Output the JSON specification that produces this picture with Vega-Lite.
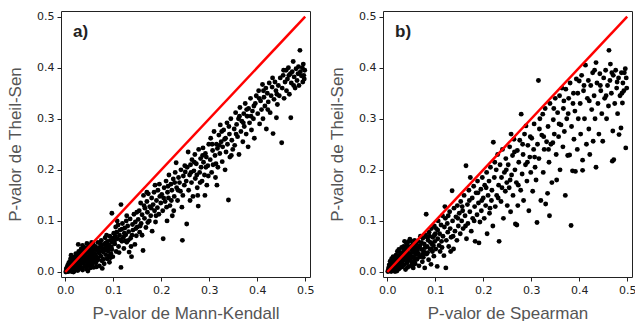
{
"$schema": "https://vega.github.io/schema/vega-lite/v6.json",
"padding": {"left": 6, "top": 10, "right": 0, "bottom": 0},
"background": "white",
"datasets": {
"diag": [{"x": 0, "y": 0}, {"x": 0.5, "y": 0.5}],
"pts": [
{"p":"a","x":0.001,"y":0.000},{"p":"a","x":0.002,"y":0.002},{"p":"a","x":0.003,"y":0.001},{"p":"a","x":0.004,"y":0.004},{"p":"a","x":0.005,"y":0.002},{"p":"a","x":0.006,"y":0.006},{"p":"a","x":0.007,"y":0.001},{"p":"a","x":0.008,"y":0.004},{"p":"a","x":0.009,"y":0.008},{"p":"a","x":0.010,"y":0.003},
{"p":"a","x":0.011,"y":0.010},{"p":"a","x":0.012,"y":0.006},{"p":"a","x":0.013,"y":0.001},{"p":"a","x":0.014,"y":0.012},{"p":"a","x":0.015,"y":0.008},{"p":"a","x":0.016,"y":0.004},{"p":"a","x":0.017,"y":0.015},{"p":"a","x":0.018,"y":0.010},{"p":"a","x":0.019,"y":0.002},{"p":"a","x":0.020,"y":0.018},
{"p":"a","x":0.021,"y":0.013},{"p":"a","x":0.022,"y":0.006},{"p":"a","x":0.023,"y":0.020},{"p":"a","x":0.024,"y":0.009},{"p":"a","x":0.025,"y":0.015},{"p":"a","x":0.026,"y":0.003},{"p":"a","x":0.027,"y":0.022},{"p":"a","x":0.028,"y":0.012},{"p":"a","x":0.029,"y":0.018},{"p":"a","x":0.030,"y":0.007},
{"p":"a","x":0.003,"y":0.008},{"p":"a","x":0.005,"y":0.013},{"p":"a","x":0.007,"y":0.017},{"p":"a","x":0.009,"y":0.020},{"p":"a","x":0.011,"y":0.026},{"p":"a","x":0.012,"y":0.033},{"p":"a","x":0.014,"y":0.022},{"p":"a","x":0.016,"y":0.028},{"p":"a","x":0.018,"y":0.024},{"p":"a","x":0.020,"y":0.030},
{"p":"a","x":0.022,"y":0.036},{"p":"a","x":0.024,"y":0.027},{"p":"a","x":0.026,"y":0.031},{"p":"a","x":0.028,"y":0.040},{"p":"a","x":0.030,"y":0.025},{"p":"a","x":0.006,"y":0.010},{"p":"a","x":0.010,"y":0.015},{"p":"a","x":0.015,"y":0.019},{"p":"a","x":0.019,"y":0.007},{"p":"a","x":0.023,"y":0.014},
{"p":"a","x":0.027,"y":0.005},{"p":"a","x":0.029,"y":0.028},{"p":"a","x":0.002,"y":0.006},{"p":"a","x":0.008,"y":0.014},{"p":"a","x":0.013,"y":0.018},{"p":"a","x":0.017,"y":0.000},{"p":"a","x":0.021,"y":0.025},{"p":"a","x":0.025,"y":0.021},{"p":"a","x":0.027,"y":0.054},
{"p":"a","x":0.031,"y":0.015},{"p":"a","x":0.032,"y":0.032},{"p":"a","x":0.033,"y":0.009},{"p":"a","x":0.034,"y":0.022},{"p":"a","x":0.035,"y":0.041},{"p":"a","x":0.036,"y":0.004},{"p":"a","x":0.037,"y":0.028},{"p":"a","x":0.038,"y":0.017},{"p":"a","x":0.039,"y":0.035},{"p":"a","x":0.040,"y":0.011},
{"p":"a","x":0.041,"y":0.046},{"p":"a","x":0.042,"y":0.024},{"p":"a","x":0.043,"y":0.031},{"p":"a","x":0.044,"y":0.006},{"p":"a","x":0.045,"y":0.056},{"p":"a","x":0.046,"y":0.019},{"p":"a","x":0.047,"y":0.038},{"p":"a","x":0.048,"y":0.027},{"p":"a","x":0.049,"y":0.013},{"p":"a","x":0.050,"y":0.043},
{"p":"a","x":0.051,"y":0.034},{"p":"a","x":0.052,"y":0.008},{"p":"a","x":0.053,"y":0.050},{"p":"a","x":0.054,"y":0.022},{"p":"a","x":0.055,"y":0.029},{"p":"a","x":0.056,"y":0.040},{"p":"a","x":0.057,"y":0.016},{"p":"a","x":0.058,"y":0.055},{"p":"a","x":0.059,"y":0.033},{"p":"a","x":0.060,"y":0.025},
{"p":"a","x":0.033,"y":0.045},{"p":"a","x":0.036,"y":0.052},{"p":"a","x":0.038,"y":0.025},{"p":"a","x":0.040,"y":0.030},{"p":"a","x":0.042,"y":0.012},{"p":"a","x":0.044,"y":0.040},{"p":"a","x":0.046,"y":0.048},{"p":"a","x":0.048,"y":0.020},{"p":"a","x":0.050,"y":0.052},{"p":"a","x":0.052,"y":0.037},
{"p":"a","x":0.054,"y":0.014},{"p":"a","x":0.056,"y":0.047},{"p":"a","x":0.058,"y":0.021},{"p":"a","x":0.060,"y":0.044},{"p":"a","x":0.035,"y":0.019},{"p":"a","x":0.041,"y":0.036},{"p":"a","x":0.047,"y":0.002},{"p":"a","x":0.053,"y":0.030},{"p":"a","x":0.057,"y":0.038},{"p":"a","x":0.039,"y":0.048},
{"p":"a","x":0.045,"y":0.023},{"p":"a","x":0.051,"y":0.017},{"p":"a","x":0.055,"y":0.058},{"p":"a","x":0.059,"y":0.009},{"p":"a","x":0.031,"y":0.038},
{"p":"a","x":0.062,"y":0.035},{"p":"a","x":0.063,"y":0.050},{"p":"a","x":0.064,"y":0.018},{"p":"a","x":0.066,"y":0.042},{"p":"a","x":0.067,"y":0.028},{"p":"a","x":0.068,"y":0.058},{"p":"a","x":0.070,"y":0.037},{"p":"a","x":0.071,"y":0.012},{"p":"a","x":0.072,"y":0.048},{"p":"a","x":0.074,"y":0.031},
{"p":"a","x":0.075,"y":0.062},{"p":"a","x":0.076,"y":0.022},{"p":"a","x":0.078,"y":0.045},{"p":"a","x":0.079,"y":0.039},{"p":"a","x":0.080,"y":0.054},{"p":"a","x":0.081,"y":0.016},{"p":"a","x":0.083,"y":0.067},{"p":"a","x":0.084,"y":0.034},{"p":"a","x":0.085,"y":0.047},{"p":"a","x":0.087,"y":0.026},
{"p":"a","x":0.088,"y":0.060},{"p":"a","x":0.089,"y":0.041},{"p":"a","x":0.091,"y":0.053},{"p":"a","x":0.092,"y":0.019},{"p":"a","x":0.093,"y":0.070},{"p":"a","x":0.095,"y":0.036},{"p":"a","x":0.096,"y":0.049},{"p":"a","x":0.097,"y":0.115},{"p":"a","x":0.098,"y":0.058},{"p":"a","x":0.099,"y":0.030},
{"p":"a","x":0.065,"y":0.010},{"p":"a","x":0.069,"y":0.046},{"p":"a","x":0.073,"y":0.055},{"p":"a","x":0.077,"y":0.007},{"p":"a","x":0.082,"y":0.043},{"p":"a","x":0.086,"y":0.072},{"p":"a","x":0.090,"y":0.047},{"p":"a","x":0.094,"y":0.062},{"p":"a","x":0.100,"y":0.066},{"p":"a","x":0.061,"y":0.026},
{"p":"a","x":0.068,"y":0.024},{"p":"a","x":0.076,"y":0.052},{"p":"a","x":0.084,"y":0.057},{"p":"a","x":0.090,"y":0.032},{"p":"a","x":0.097,"y":0.044},
{"p":"a","x":0.101,"y":0.076},{"p":"a","x":0.103,"y":0.055},{"p":"a","x":0.105,"y":0.088},{"p":"a","x":0.106,"y":0.040},{"p":"a","x":0.108,"y":0.065},{"p":"a","x":0.110,"y":0.092},{"p":"a","x":0.111,"y":0.050},{"p":"a","x":0.113,"y":0.072},{"p":"a","x":0.114,"y":0.082},{"p":"a","x":0.116,"y":0.132},
{"p":"a","x":0.116,"y":0.009},{"p":"a","x":0.118,"y":0.060},{"p":"a","x":0.119,"y":0.095},{"p":"a","x":0.121,"y":0.068},{"p":"a","x":0.122,"y":0.046},{"p":"a","x":0.124,"y":0.086},{"p":"a","x":0.126,"y":0.073},{"p":"a","x":0.127,"y":0.100},{"p":"a","x":0.128,"y":0.058},{"p":"a","x":0.130,"y":0.090},
{"p":"a","x":0.132,"y":0.079},{"p":"a","x":0.133,"y":0.039},{"p":"a","x":0.135,"y":0.104},{"p":"a","x":0.136,"y":0.066},{"p":"a","x":0.138,"y":0.030},{"p":"a","x":0.140,"y":0.093},{"p":"a","x":0.141,"y":0.082},{"p":"a","x":0.143,"y":0.113},{"p":"a","x":0.145,"y":0.054},{"p":"a","x":0.146,"y":0.098},
{"p":"a","x":0.148,"y":0.071},{"p":"a","x":0.150,"y":0.088},{"p":"a","x":0.104,"y":0.070},{"p":"a","x":0.112,"y":0.038},{"p":"a","x":0.125,"y":0.061},{"p":"a","x":0.137,"y":0.050},{"p":"a","x":0.149,"y":0.117},
{"p":"a","x":0.152,"y":0.103},{"p":"a","x":0.154,"y":0.120},{"p":"a","x":0.155,"y":0.078},{"p":"a","x":0.157,"y":0.135},{"p":"a","x":0.158,"y":0.095},{"p":"a","x":0.160,"y":0.112},{"p":"a","x":0.162,"y":0.042},{"p":"a","x":0.163,"y":0.150},{"p":"a","x":0.165,"y":0.105},{"p":"a","x":0.166,"y":0.125},
{"p":"a","x":0.168,"y":0.087},{"p":"a","x":0.170,"y":0.138},{"p":"a","x":0.171,"y":0.117},{"p":"a","x":0.173,"y":0.153},{"p":"a","x":0.175,"y":0.100},{"p":"a","x":0.176,"y":0.128},{"p":"a","x":0.178,"y":0.110},{"p":"a","x":0.180,"y":0.145},{"p":"a","x":0.181,"y":0.080},{"p":"a","x":0.183,"y":0.132},
{"p":"a","x":0.185,"y":0.156},{"p":"a","x":0.186,"y":0.120},{"p":"a","x":0.188,"y":0.098},{"p":"a","x":0.190,"y":0.140},{"p":"a","x":0.192,"y":0.126},{"p":"a","x":0.193,"y":0.160},{"p":"a","x":0.195,"y":0.113},{"p":"a","x":0.197,"y":0.148},{"p":"a","x":0.199,"y":0.135},{"p":"a","x":0.160,"y":0.072},
{"p":"a","x":0.170,"y":0.156},{"p":"a","x":0.187,"y":0.170},
{"p":"a","x":0.201,"y":0.152},{"p":"a","x":0.203,"y":0.120},{"p":"a","x":0.204,"y":0.065},{"p":"a","x":0.206,"y":0.165},{"p":"a","x":0.208,"y":0.138},{"p":"a","x":0.210,"y":0.178},{"p":"a","x":0.211,"y":0.127},{"p":"a","x":0.213,"y":0.156},{"p":"a","x":0.215,"y":0.145},{"p":"a","x":0.216,"y":0.190},
{"p":"a","x":0.218,"y":0.130},{"p":"a","x":0.220,"y":0.172},{"p":"a","x":0.222,"y":0.160},{"p":"a","x":0.223,"y":0.110},{"p":"a","x":0.225,"y":0.182},{"p":"a","x":0.227,"y":0.148},{"p":"a","x":0.229,"y":0.195},{"p":"a","x":0.231,"y":0.214},{"p":"a","x":0.232,"y":0.165},{"p":"a","x":0.234,"y":0.140},
{"p":"a","x":0.236,"y":0.185},{"p":"a","x":0.238,"y":0.175},{"p":"a","x":0.240,"y":0.158},{"p":"a","x":0.241,"y":0.200},{"p":"a","x":0.243,"y":0.127},{"p":"a","x":0.244,"y":0.062},{"p":"a","x":0.246,"y":0.188},{"p":"a","x":0.248,"y":0.170},{"p":"a","x":0.250,"y":0.196},{"p":"a","x":0.212,"y":0.100},
{"p":"a","x":0.226,"y":0.120},
{"p":"a","x":0.252,"y":0.178},{"p":"a","x":0.253,"y":0.094},{"p":"a","x":0.254,"y":0.205},{"p":"a","x":0.256,"y":0.235},{"p":"a","x":0.257,"y":0.160},{"p":"a","x":0.259,"y":0.190},{"p":"a","x":0.261,"y":0.210},{"p":"a","x":0.263,"y":0.175},{"p":"a","x":0.264,"y":0.220},{"p":"a","x":0.266,"y":0.148},
{"p":"a","x":0.268,"y":0.198},{"p":"a","x":0.270,"y":0.230},{"p":"a","x":0.271,"y":0.183},{"p":"a","x":0.273,"y":0.212},{"p":"a","x":0.275,"y":0.165},{"p":"a","x":0.277,"y":0.129},{"p":"a","x":0.278,"y":0.240},{"p":"a","x":0.280,"y":0.195},{"p":"a","x":0.282,"y":0.222},{"p":"a","x":0.283,"y":0.205},
{"p":"a","x":0.285,"y":0.178},{"p":"a","x":0.287,"y":0.243},{"p":"a","x":0.288,"y":0.215},{"p":"a","x":0.290,"y":0.190},{"p":"a","x":0.292,"y":0.232},{"p":"a","x":0.294,"y":0.225},{"p":"a","x":0.295,"y":0.170},{"p":"a","x":0.297,"y":0.208},{"p":"a","x":0.299,"y":0.250},{"p":"a","x":0.260,"y":0.140},
{"p":"a","x":0.276,"y":0.150},{"p":"a","x":0.291,"y":0.150},
{"p":"a","x":0.302,"y":0.220},{"p":"a","x":0.303,"y":0.262},{"p":"a","x":0.305,"y":0.195},{"p":"a","x":0.307,"y":0.238},{"p":"a","x":0.308,"y":0.210},{"p":"a","x":0.310,"y":0.275},{"p":"a","x":0.312,"y":0.228},{"p":"a","x":0.313,"y":0.185},{"p":"a","x":0.315,"y":0.250},{"p":"a","x":0.317,"y":0.242},
{"p":"a","x":0.318,"y":0.205},{"p":"a","x":0.320,"y":0.268},{"p":"a","x":0.322,"y":0.232},{"p":"a","x":0.323,"y":0.288},{"p":"a","x":0.325,"y":0.255},{"p":"a","x":0.327,"y":0.216},{"p":"a","x":0.328,"y":0.245},{"p":"a","x":0.330,"y":0.278},{"p":"a","x":0.332,"y":0.260},{"p":"a","x":0.333,"y":0.200},
{"p":"a","x":0.335,"y":0.235},{"p":"a","x":0.337,"y":0.292},{"p":"a","x":0.338,"y":0.250},{"p":"a","x":0.340,"y":0.141},{"p":"a","x":0.342,"y":0.270},{"p":"a","x":0.343,"y":0.225},{"p":"a","x":0.345,"y":0.300},{"p":"a","x":0.347,"y":0.258},{"p":"a","x":0.349,"y":0.240},{"p":"a","x":0.316,"y":0.170},
{"p":"a","x":0.352,"y":0.280},{"p":"a","x":0.353,"y":0.248},{"p":"a","x":0.355,"y":0.312},{"p":"a","x":0.357,"y":0.289},{"p":"a","x":0.359,"y":0.265},{"p":"a","x":0.361,"y":0.300},{"p":"a","x":0.362,"y":0.230},{"p":"a","x":0.364,"y":0.322},{"p":"a","x":0.366,"y":0.275},{"p":"a","x":0.368,"y":0.295},
{"p":"a","x":0.370,"y":0.255},{"p":"a","x":0.372,"y":0.310},{"p":"a","x":0.373,"y":0.285},{"p":"a","x":0.375,"y":0.330},{"p":"a","x":0.377,"y":0.270},{"p":"a","x":0.379,"y":0.305},{"p":"a","x":0.381,"y":0.245},{"p":"a","x":0.382,"y":0.320},{"p":"a","x":0.384,"y":0.292},{"p":"a","x":0.386,"y":0.340},
{"p":"a","x":0.388,"y":0.278},{"p":"a","x":0.390,"y":0.315},{"p":"a","x":0.392,"y":0.300},{"p":"a","x":0.394,"y":0.262},{"p":"a","x":0.396,"y":0.330},{"p":"a","x":0.398,"y":0.345},
{"p":"a","x":0.401,"y":0.310},{"p":"a","x":0.403,"y":0.355},{"p":"a","x":0.405,"y":0.290},{"p":"a","x":0.407,"y":0.335},{"p":"a","x":0.409,"y":0.318},{"p":"a","x":0.411,"y":0.367},{"p":"a","x":0.412,"y":0.300},{"p":"a","x":0.414,"y":0.342},{"p":"a","x":0.416,"y":0.325},{"p":"a","x":0.418,"y":0.360},
{"p":"a","x":0.419,"y":0.280},{"p":"a","x":0.421,"y":0.350},{"p":"a","x":0.423,"y":0.333},{"p":"a","x":0.425,"y":0.370},{"p":"a","x":0.427,"y":0.312},{"p":"a","x":0.429,"y":0.345},{"p":"a","x":0.431,"y":0.362},{"p":"a","x":0.433,"y":0.271},{"p":"a","x":0.435,"y":0.338},{"p":"a","x":0.437,"y":0.372},
{"p":"a","x":0.439,"y":0.355},{"p":"a","x":0.440,"y":0.302},{"p":"a","x":0.442,"y":0.328},{"p":"a","x":0.444,"y":0.365},{"p":"a","x":0.446,"y":0.345},{"p":"a","x":0.448,"y":0.380},
{"p":"a","x":0.451,"y":0.253},{"p":"a","x":0.452,"y":0.360},{"p":"a","x":0.454,"y":0.385},{"p":"a","x":0.456,"y":0.340},{"p":"a","x":0.458,"y":0.372},{"p":"a","x":0.460,"y":0.395},{"p":"a","x":0.461,"y":0.355},{"p":"a","x":0.463,"y":0.378},{"p":"a","x":0.465,"y":0.400},{"p":"a","x":0.467,"y":0.348},
{"p":"a","x":0.469,"y":0.388},{"p":"a","x":0.470,"y":0.302},{"p":"a","x":0.471,"y":0.370},{"p":"a","x":0.473,"y":0.392},{"p":"a","x":0.475,"y":0.412},{"p":"a","x":0.477,"y":0.382},{"p":"a","x":0.479,"y":0.360},{"p":"a","x":0.481,"y":0.398},{"p":"a","x":0.483,"y":0.375},{"p":"a","x":0.485,"y":0.388},
{"p":"a","x":0.487,"y":0.365},{"p":"a","x":0.489,"y":0.434},{"p":"a","x":0.490,"y":0.392},{"p":"a","x":0.492,"y":0.384},{"p":"a","x":0.494,"y":0.400},{"p":"a","x":0.496,"y":0.407},{"p":"a","x":0.498,"y":0.378},{"p":"a","x":0.499,"y":0.395},{"p":"a","x":0.495,"y":0.372},
{"p":"a","x":0.108,"y":0.100},{"p":"a","x":0.118,"y":0.084},{"p":"a","x":0.128,"y":0.110},{"p":"a","x":0.139,"y":0.072},{"p":"a","x":0.147,"y":0.085},{"p":"a","x":0.156,"y":0.090},{"p":"a","x":0.164,"y":0.130},{"p":"a","x":0.172,"y":0.097},{"p":"a","x":0.179,"y":0.125},{"p":"a","x":0.189,"y":0.110},
{"p":"a","x":0.196,"y":0.172},{"p":"a","x":0.205,"y":0.145},{"p":"a","x":0.214,"y":0.168},{"p":"a","x":0.221,"y":0.140},{"p":"a","x":0.228,"y":0.175},{"p":"a","x":0.235,"y":0.160},{"p":"a","x":0.245,"y":0.150},{"p":"a","x":0.249,"y":0.208},{"p":"a","x":0.262,"y":0.195},{"p":"a","x":0.269,"y":0.215},
{"p":"a","x":0.274,"y":0.190},{"p":"a","x":0.281,"y":0.175},{"p":"a","x":0.286,"y":0.228},{"p":"a","x":0.293,"y":0.205},{"p":"a","x":0.298,"y":0.188},{"p":"a","x":0.306,"y":0.250},{"p":"a","x":0.314,"y":0.212},{"p":"a","x":0.321,"y":0.248},{"p":"a","x":0.326,"y":0.275},{"p":"a","x":0.334,"y":0.262},
{"p":"a","x":0.341,"y":0.285},{"p":"a","x":0.346,"y":0.228},{"p":"a","x":0.356,"y":0.270},{"p":"a","x":0.363,"y":0.305},{"p":"a","x":0.371,"y":0.292},{"p":"a","x":0.378,"y":0.318},{"p":"a","x":0.387,"y":0.305},{"p":"a","x":0.393,"y":0.325},{"p":"a","x":0.404,"y":0.340},{"p":"a","x":0.413,"y":0.355},
{"p":"a","x":0.422,"y":0.318},{"p":"a","x":0.432,"y":0.380},{"p":"a","x":0.441,"y":0.348},{"p":"a","x":0.455,"y":0.395},{"p":"a","x":0.466,"y":0.385},{"p":"a","x":0.476,"y":0.365},{"p":"a","x":0.486,"y":0.402},{"p":"a","x":0.497,"y":0.385},{"p":"a","x":0.064,"y":0.030},{"p":"a","x":0.072,"y":0.040},
{"p":"a","x":0.079,"y":0.025},{"p":"a","x":0.086,"y":0.050},{"p":"a","x":0.094,"y":0.028},{"p":"a","x":0.102,"y":0.060},{"p":"a","x":0.107,"y":0.078},{"p":"a","x":0.115,"y":0.063},{"p":"a","x":0.123,"y":0.076},{"p":"a","x":0.131,"y":0.062},

{"p":"b","x":0.001,"y":0.001},{"p":"b","x":0.002,"y":0.004},{"p":"b","x":0.003,"y":0.002},{"p":"b","x":0.004,"y":0.007},{"p":"b","x":0.005,"y":0.003},{"p":"b","x":0.006,"y":0.010},{"p":"b","x":0.007,"y":0.005},{"p":"b","x":0.008,"y":0.001},{"p":"b","x":0.009,"y":0.012},{"p":"b","x":0.010,"y":0.007},
{"p":"b","x":0.011,"y":0.016},{"p":"b","x":0.012,"y":0.003},{"p":"b","x":0.013,"y":0.010},{"p":"b","x":0.014,"y":0.020},{"p":"b","x":0.015,"y":0.006},{"p":"b","x":0.016,"y":0.014},{"p":"b","x":0.017,"y":0.024},{"p":"b","x":0.018,"y":0.009},{"p":"b","x":0.019,"y":0.017},{"p":"b","x":0.020,"y":0.002},
{"p":"b","x":0.021,"y":0.028},{"p":"b","x":0.022,"y":0.012},{"p":"b","x":0.023,"y":0.019},{"p":"b","x":0.024,"y":0.006},{"p":"b","x":0.025,"y":0.032},{"p":"b","x":0.026,"y":0.015},{"p":"b","x":0.027,"y":0.024},{"p":"b","x":0.028,"y":0.010},{"p":"b","x":0.029,"y":0.036},{"p":"b","x":0.030,"y":0.020},
{"p":"b","x":0.004,"y":0.014},{"p":"b","x":0.006,"y":0.021},{"p":"b","x":0.009,"y":0.026},{"p":"b","x":0.012,"y":0.030},{"p":"b","x":0.015,"y":0.027},{"p":"b","x":0.018,"y":0.033},{"p":"b","x":0.021,"y":0.040},{"p":"b","x":0.024,"y":0.044},{"p":"b","x":0.027,"y":0.038},{"p":"b","x":0.030,"y":0.048},
{"p":"b","x":0.003,"y":0.009},{"p":"b","x":0.008,"y":0.018},{"p":"b","x":0.013,"y":0.005},{"p":"b","x":0.016,"y":0.001},{"p":"b","x":0.019,"y":0.022},{"p":"b","x":0.023,"y":0.030},{"p":"b","x":0.026,"y":0.008},{"p":"b","x":0.029,"y":0.013},{"p":"b","x":0.011,"y":0.022},{"p":"b","x":0.017,"y":0.012},
{"p":"b","x":0.022,"y":0.020},{"p":"b","x":0.025,"y":0.025},{"p":"b","x":0.028,"y":0.028},
{"p":"b","x":0.031,"y":0.010},{"p":"b","x":0.032,"y":0.038},{"p":"b","x":0.033,"y":0.022},{"p":"b","x":0.034,"y":0.050},{"p":"b","x":0.035,"y":0.014},{"p":"b","x":0.036,"y":0.030},{"p":"b","x":0.037,"y":0.045},{"p":"b","x":0.038,"y":0.005},{"p":"b","x":0.039,"y":0.026},{"p":"b","x":0.040,"y":0.056},
{"p":"b","x":0.041,"y":0.018},{"p":"b","x":0.042,"y":0.040},{"p":"b","x":0.043,"y":0.032},{"p":"b","x":0.044,"y":0.059},{"p":"b","x":0.045,"y":0.011},{"p":"b","x":0.046,"y":0.047},{"p":"b","x":0.047,"y":0.025},{"p":"b","x":0.048,"y":0.036},{"p":"b","x":0.049,"y":0.061},{"p":"b","x":0.050,"y":0.020},
{"p":"b","x":0.051,"y":0.043},{"p":"b","x":0.052,"y":0.030},{"p":"b","x":0.053,"y":0.054},{"p":"b","x":0.054,"y":0.008},{"p":"b","x":0.055,"y":0.038},{"p":"b","x":0.056,"y":0.027},{"p":"b","x":0.057,"y":0.062},{"p":"b","x":0.058,"y":0.016},{"p":"b","x":0.059,"y":0.048},{"p":"b","x":0.060,"y":0.034},
{"p":"b","x":0.033,"y":0.030},{"p":"b","x":0.036,"y":0.060},{"p":"b","x":0.039,"y":0.042},{"p":"b","x":0.042,"y":0.009},{"p":"b","x":0.045,"y":0.034},{"p":"b","x":0.048,"y":0.050},{"p":"b","x":0.051,"y":0.014},{"p":"b","x":0.054,"y":0.044},{"p":"b","x":0.057,"y":0.022},{"p":"b","x":0.060,"y":0.055},
{"p":"b","x":0.035,"y":0.042},{"p":"b","x":0.040,"y":0.035},{"p":"b","x":0.044,"y":0.024},{"p":"b","x":0.047,"y":0.064},{"p":"b","x":0.052,"y":0.047},{"p":"b","x":0.055,"y":0.017},{"p":"b","x":0.058,"y":0.040},{"p":"b","x":0.041,"y":0.052},{"p":"b","x":0.049,"y":0.029},
{"p":"b","x":0.061,"y":0.046},{"p":"b","x":0.062,"y":0.025},{"p":"b","x":0.064,"y":0.060},{"p":"b","x":0.065,"y":0.036},{"p":"b","x":0.066,"y":0.012},{"p":"b","x":0.068,"y":0.052},{"p":"b","x":0.069,"y":0.070},{"p":"b","x":0.070,"y":0.030},{"p":"b","x":0.072,"y":0.044},{"p":"b","x":0.073,"y":0.020},
{"p":"b","x":0.074,"y":0.066},{"p":"b","x":0.076,"y":0.040},{"p":"b","x":0.077,"y":0.055},{"p":"b","x":0.078,"y":0.008},{"p":"b","x":0.080,"y":0.072},{"p":"b","x":0.081,"y":0.113},{"p":"b","x":0.082,"y":0.035},{"p":"b","x":0.083,"y":0.050},{"p":"b","x":0.085,"y":0.062},{"p":"b","x":0.086,"y":0.024},
{"p":"b","x":0.087,"y":0.078},{"p":"b","x":0.089,"y":0.045},{"p":"b","x":0.090,"y":0.058},{"p":"b","x":0.091,"y":0.015},{"p":"b","x":0.092,"y":0.085},{"p":"b","x":0.094,"y":0.040},{"p":"b","x":0.095,"y":0.068},{"p":"b","x":0.096,"y":0.052},{"p":"b","x":0.097,"y":0.031},{"p":"b","x":0.098,"y":0.090},
{"p":"b","x":0.099,"y":0.060},{"p":"b","x":0.063,"y":0.042},{"p":"b","x":0.067,"y":0.030},{"p":"b","x":0.071,"y":0.058},{"p":"b","x":0.075,"y":0.029},{"p":"b","x":0.079,"y":0.048},{"p":"b","x":0.084,"y":0.038},{"p":"b","x":0.088,"y":0.070},{"p":"b","x":0.093,"y":0.055},{"p":"b","x":0.100,"y":0.075},
{"p":"b","x":0.101,"y":0.045},{"p":"b","x":0.102,"y":0.085},{"p":"b","x":0.104,"y":0.011},{"p":"b","x":0.105,"y":0.065},{"p":"b","x":0.106,"y":0.100},{"p":"b","x":0.108,"y":0.052},{"p":"b","x":0.109,"y":0.075},{"p":"b","x":0.110,"y":0.040},{"p":"b","x":0.112,"y":0.092},{"p":"b","x":0.113,"y":0.060},
{"p":"b","x":0.115,"y":0.110},{"p":"b","x":0.116,"y":0.070},{"p":"b","x":0.118,"y":0.032},{"p":"b","x":0.119,"y":0.088},{"p":"b","x":0.121,"y":0.105},{"p":"b","x":0.122,"y":0.008},{"p":"b","x":0.123,"y":0.062},{"p":"b","x":0.125,"y":0.095},{"p":"b","x":0.126,"y":0.078},{"p":"b","x":0.128,"y":0.050},
{"p":"b","x":0.130,"y":0.118},{"p":"b","x":0.131,"y":0.085},{"p":"b","x":0.133,"y":0.068},{"p":"b","x":0.135,"y":0.159},{"p":"b","x":0.136,"y":0.100},{"p":"b","x":0.138,"y":0.045},{"p":"b","x":0.139,"y":0.125},{"p":"b","x":0.141,"y":0.080},{"p":"b","x":0.143,"y":0.108},{"p":"b","x":0.145,"y":0.062},
{"p":"b","x":0.146,"y":0.130},{"p":"b","x":0.148,"y":0.090},{"p":"b","x":0.150,"y":0.115},{"p":"b","x":0.120,"y":0.128},{"p":"b","x":0.132,"y":0.040},
{"p":"b","x":0.152,"y":0.075},{"p":"b","x":0.153,"y":0.138},{"p":"b","x":0.155,"y":0.100},{"p":"b","x":0.157,"y":0.120},{"p":"b","x":0.158,"y":0.085},{"p":"b","x":0.160,"y":0.150},{"p":"b","x":0.162,"y":0.110},{"p":"b","x":0.164,"y":0.208},{"p":"b","x":0.165,"y":0.065},{"p":"b","x":0.167,"y":0.132},
{"p":"b","x":0.168,"y":0.095},{"p":"b","x":0.170,"y":0.160},{"p":"b","x":0.172,"y":0.118},{"p":"b","x":0.173,"y":0.185},{"p":"b","x":0.175,"y":0.080},{"p":"b","x":0.177,"y":0.145},{"p":"b","x":0.178,"y":0.105},{"p":"b","x":0.180,"y":0.168},{"p":"b","x":0.182,"y":0.128},{"p":"b","x":0.183,"y":0.060},
{"p":"b","x":0.185,"y":0.155},{"p":"b","x":0.187,"y":0.112},{"p":"b","x":0.188,"y":0.178},{"p":"b","x":0.190,"y":0.135},{"p":"b","x":0.191,"y":0.057},{"p":"b","x":0.193,"y":0.098},{"p":"b","x":0.195,"y":0.162},{"p":"b","x":0.196,"y":0.120},{"p":"b","x":0.198,"y":0.185},{"p":"b","x":0.200,"y":0.145},
{"p":"b","x":0.202,"y":0.105},{"p":"b","x":0.203,"y":0.170},{"p":"b","x":0.205,"y":0.130},{"p":"b","x":0.207,"y":0.195},{"p":"b","x":0.208,"y":0.075},{"p":"b","x":0.210,"y":0.150},{"p":"b","x":0.212,"y":0.178},{"p":"b","x":0.213,"y":0.115},{"p":"b","x":0.215,"y":0.205},{"p":"b","x":0.217,"y":0.140},
{"p":"b","x":0.218,"y":0.160},{"p":"b","x":0.220,"y":0.090},{"p":"b","x":0.221,"y":0.254},{"p":"b","x":0.223,"y":0.185},{"p":"b","x":0.225,"y":0.128},{"p":"b","x":0.227,"y":0.200},{"p":"b","x":0.228,"y":0.150},{"p":"b","x":0.230,"y":0.230},{"p":"b","x":0.232,"y":0.170},{"p":"b","x":0.233,"y":0.060},
{"p":"b","x":0.235,"y":0.210},{"p":"b","x":0.237,"y":0.138},{"p":"b","x":0.238,"y":0.185},{"p":"b","x":0.240,"y":0.240},{"p":"b","x":0.242,"y":0.105},{"p":"b","x":0.244,"y":0.195},{"p":"b","x":0.246,"y":0.158},{"p":"b","x":0.247,"y":0.222},{"p":"b","x":0.249,"y":0.175},{"p":"b","x":0.250,"y":0.130},
{"p":"b","x":0.252,"y":0.210},{"p":"b","x":0.254,"y":0.165},{"p":"b","x":0.255,"y":0.245},{"p":"b","x":0.257,"y":0.118},{"p":"b","x":0.259,"y":0.190},{"p":"b","x":0.261,"y":0.228},{"p":"b","x":0.262,"y":0.150},{"p":"b","x":0.264,"y":0.260},{"p":"b","x":0.266,"y":0.200},{"p":"b","x":0.267,"y":0.094},
{"p":"b","x":0.269,"y":0.175},{"p":"b","x":0.271,"y":0.238},{"p":"b","x":0.272,"y":0.130},{"p":"b","x":0.274,"y":0.215},{"p":"b","x":0.276,"y":0.258},{"p":"b","x":0.278,"y":0.160},{"p":"b","x":0.279,"y":0.309},{"p":"b","x":0.281,"y":0.192},{"p":"b","x":0.283,"y":0.230},{"p":"b","x":0.284,"y":0.140},
{"p":"b","x":0.286,"y":0.270},{"p":"b","x":0.288,"y":0.210},{"p":"b","x":0.289,"y":0.286},{"p":"b","x":0.291,"y":0.178},{"p":"b","x":0.293,"y":0.248},{"p":"b","x":0.295,"y":0.120},{"p":"b","x":0.297,"y":0.225},{"p":"b","x":0.299,"y":0.195},{"p":"b","x":0.270,"y":0.092},{"p":"b","x":0.258,"y":0.270},
{"p":"b","x":0.301,"y":0.262},{"p":"b","x":0.303,"y":0.158},{"p":"b","x":0.305,"y":0.240},{"p":"b","x":0.306,"y":0.290},{"p":"b","x":0.308,"y":0.205},{"p":"b","x":0.310,"y":0.180},{"p":"b","x":0.312,"y":0.097},{"p":"b","x":0.313,"y":0.250},{"p":"b","x":0.315,"y":0.375},{"p":"b","x":0.316,"y":0.222},
{"p":"b","x":0.318,"y":0.300},{"p":"b","x":0.320,"y":0.140},{"p":"b","x":0.322,"y":0.268},{"p":"b","x":0.324,"y":0.309},{"p":"b","x":0.325,"y":0.195},{"p":"b","x":0.327,"y":0.240},{"p":"b","x":0.329,"y":0.320},{"p":"b","x":0.330,"y":0.133},{"p":"b","x":0.332,"y":0.255},{"p":"b","x":0.334,"y":0.154},
{"p":"b","x":0.335,"y":0.285},{"p":"b","x":0.337,"y":0.215},{"p":"b","x":0.339,"y":0.330},{"p":"b","x":0.341,"y":0.250},{"p":"b","x":0.343,"y":0.175},{"p":"b","x":0.345,"y":0.253},{"p":"b","x":0.346,"y":0.298},{"p":"b","x":0.348,"y":0.270},{"p":"b","x":0.350,"y":0.340},{"p":"b","x":0.338,"y":0.110},
{"p":"b","x":0.352,"y":0.230},{"p":"b","x":0.353,"y":0.180},{"p":"b","x":0.355,"y":0.312},{"p":"b","x":0.357,"y":0.265},{"p":"b","x":0.359,"y":0.345},{"p":"b","x":0.360,"y":0.200},{"p":"b","x":0.362,"y":0.288},{"p":"b","x":0.364,"y":0.360},{"p":"b","x":0.366,"y":0.245},{"p":"b","x":0.367,"y":0.320},
{"p":"b","x":0.369,"y":0.275},{"p":"b","x":0.371,"y":0.150},{"p":"b","x":0.372,"y":0.358},{"p":"b","x":0.374,"y":0.300},{"p":"b","x":0.376,"y":0.228},{"p":"b","x":0.378,"y":0.340},{"p":"b","x":0.380,"y":0.229},{"p":"b","x":0.381,"y":0.370},{"p":"b","x":0.383,"y":0.091},{"p":"b","x":0.384,"y":0.285},
{"p":"b","x":0.386,"y":0.198},{"p":"b","x":0.388,"y":0.350},{"p":"b","x":0.389,"y":0.260},{"p":"b","x":0.391,"y":0.315},{"p":"b","x":0.392,"y":0.197},{"p":"b","x":0.394,"y":0.378},{"p":"b","x":0.396,"y":0.240},{"p":"b","x":0.398,"y":0.300},{"p":"b","x":0.400,"y":0.374},
{"p":"b","x":0.402,"y":0.330},{"p":"b","x":0.403,"y":0.270},{"p":"b","x":0.405,"y":0.385},{"p":"b","x":0.407,"y":0.219},{"p":"b","x":0.407,"y":0.199},{"p":"b","x":0.409,"y":0.355},{"p":"b","x":0.411,"y":0.300},{"p":"b","x":0.413,"y":0.405},{"p":"b","x":0.415,"y":0.250},{"p":"b","x":0.417,"y":0.340},
{"p":"b","x":0.419,"y":0.375},{"p":"b","x":0.420,"y":0.280},{"p":"b","x":0.422,"y":0.230},{"p":"b","x":0.424,"y":0.365},{"p":"b","x":0.426,"y":0.318},{"p":"b","x":0.428,"y":0.390},{"p":"b","x":0.429,"y":0.256},{"p":"b","x":0.431,"y":0.345},{"p":"b","x":0.433,"y":0.300},{"p":"b","x":0.435,"y":0.410},
{"p":"b","x":0.435,"y":0.205},{"p":"b","x":0.437,"y":0.370},{"p":"b","x":0.439,"y":0.330},{"p":"b","x":0.441,"y":0.270},{"p":"b","x":0.443,"y":0.388},{"p":"b","x":0.445,"y":0.355},{"p":"b","x":0.447,"y":0.310},{"p":"b","x":0.449,"y":0.256},
{"p":"b","x":0.451,"y":0.380},{"p":"b","x":0.453,"y":0.340},{"p":"b","x":0.455,"y":0.395},{"p":"b","x":0.457,"y":0.300},{"p":"b","x":0.459,"y":0.365},{"p":"b","x":0.461,"y":0.325},{"p":"b","x":0.462,"y":0.434},{"p":"b","x":0.464,"y":0.375},{"p":"b","x":0.465,"y":0.407},{"p":"b","x":0.467,"y":0.350},
{"p":"b","x":0.469,"y":0.217},{"p":"b","x":0.470,"y":0.276},{"p":"b","x":0.471,"y":0.385},{"p":"b","x":0.472,"y":0.220},{"p":"b","x":0.474,"y":0.330},{"p":"b","x":0.476,"y":0.395},{"p":"b","x":0.478,"y":0.360},{"p":"b","x":0.480,"y":0.310},{"p":"b","x":0.482,"y":0.380},{"p":"b","x":0.483,"y":0.269},
{"p":"b","x":0.485,"y":0.345},{"p":"b","x":0.487,"y":0.282},{"p":"b","x":0.488,"y":0.390},{"p":"b","x":0.490,"y":0.331},{"p":"b","x":0.491,"y":0.370},{"p":"b","x":0.493,"y":0.355},{"p":"b","x":0.494,"y":0.390},{"p":"b","x":0.496,"y":0.398},{"p":"b","x":0.497,"y":0.243},{"p":"b","x":0.499,"y":0.360},
{"p":"b","x":0.105,"y":0.082},{"p":"b","x":0.114,"y":0.048},{"p":"b","x":0.127,"y":0.110},{"p":"b","x":0.137,"y":0.070},{"p":"b","x":0.147,"y":0.105},{"p":"b","x":0.156,"y":0.128},{"p":"b","x":0.163,"y":0.090},{"p":"b","x":0.171,"y":0.140},{"p":"b","x":0.181,"y":0.100},{"p":"b","x":0.189,"y":0.155},
{"p":"b","x":0.197,"y":0.140},{"p":"b","x":0.206,"y":0.165},{"p":"b","x":0.214,"y":0.125},{"p":"b","x":0.224,"y":0.215},{"p":"b","x":0.231,"y":0.145},{"p":"b","x":0.239,"y":0.165},{"p":"b","x":0.248,"y":0.200},{"p":"b","x":0.256,"y":0.180},{"p":"b","x":0.265,"y":0.235},{"p":"b","x":0.273,"y":0.170},
{"p":"b","x":0.282,"y":0.250},{"p":"b","x":0.292,"y":0.215},{"p":"b","x":0.298,"y":0.265},{"p":"b","x":0.307,"y":0.225},{"p":"b","x":0.317,"y":0.280},{"p":"b","x":0.326,"y":0.265},{"p":"b","x":0.336,"y":0.240},{"p":"b","x":0.347,"y":0.320},{"p":"b","x":0.358,"y":0.290},{"p":"b","x":0.368,"y":0.335},
{"p":"b","x":0.377,"y":0.310},{"p":"b","x":0.387,"y":0.330},{"p":"b","x":0.397,"y":0.350},{"p":"b","x":0.410,"y":0.365},{"p":"b","x":0.421,"y":0.335},{"p":"b","x":0.432,"y":0.395},{"p":"b","x":0.444,"y":0.365},{"p":"b","x":0.456,"y":0.345},{"p":"b","x":0.468,"y":0.390},{"p":"b","x":0.479,"y":0.372},
{"p":"b","x":0.489,"y":0.350},{"p":"b","x":0.498,"y":0.380},{"p":"b","x":0.066,"y":0.048},{"p":"b","x":0.074,"y":0.035},{"p":"b","x":0.083,"y":0.068},{"p":"b","x":0.092,"y":0.045},{"p":"b","x":0.098,"y":0.072}
]
},
"config": {
"view": {"stroke": "#222", "strokeWidth": 1},
"axis": {"grid": false, "domain": false, "ticks": true, "tickColor": "#222", "tickSize": 4, "labelFont": "DejaVu Sans", "labelFontSize": 11, "labelColor": "#222", "labelPadding": 3, "titleFont": "Liberation Sans", "titleFontSize": 17, "titleFontWeight": "normal", "titleColor": "#555"},
"axisX": {"titlePadding": 10},
"axisY": {"titlePadding": 12},
"concat": {"spacing": 13}
},
"hconcat": [
{
"width": 249, "height": 266,
"layer": [
{"data": {"name": "pts"}, "transform": [{"filter": "datum.p === 'a'"}],
 "mark": {"type": "circle", "size": 24, "color": "#000", "opacity": 1},
 "encoding": {
  "x": {"field": "x", "type": "quantitative", "scale": {"domain": [-0.009, 0.51], "nice": false, "zero": false}, "axis": {"values": [0, 0.1, 0.2, 0.3, 0.4, 0.5], "format": ".1f", "title": "P-valor de Mann-Kendall"}},
  "y": {"field": "y", "type": "quantitative", "scale": {"domain": [-0.0098, 0.511], "nice": false, "zero": false}, "axis": {"values": [0, 0.1, 0.2, 0.3, 0.4, 0.5], "format": ".1f", "title": "P-valor de Theil-Sen"}}
 }},
{"data": {"name": "diag"}, "mark": {"type": "line", "color": "#ff0000", "strokeWidth": 2.5},
 "encoding": {"x": {"field": "x", "type": "quantitative"}, "y": {"field": "y", "type": "quantitative"}}},
{"data": {"values": [{}]}, "mark": {"type": "text", "text": "a)", "font": "Liberation Sans", "fontWeight": "bold", "fontSize": 17, "align": "left", "baseline": "middle", "color": "#222"},
 "encoding": {"x": {"datum": 0.016}, "y": {"datum": 0.47}}}
]
},
{
"width": 249, "height": 266,
"layer": [
{"data": {"name": "pts"}, "transform": [{"filter": "datum.p === 'b'"}],
 "mark": {"type": "circle", "size": 24, "color": "#000", "opacity": 1},
 "encoding": {
  "x": {"field": "x", "type": "quantitative", "scale": {"domain": [-0.009, 0.51], "nice": false, "zero": false}, "axis": {"values": [0, 0.1, 0.2, 0.3, 0.4, 0.5], "format": ".1f", "title": "P-valor de Spearman"}},
  "y": {"field": "y", "type": "quantitative", "scale": {"domain": [-0.0098, 0.511], "nice": false, "zero": false}, "axis": {"values": [0, 0.1, 0.2, 0.3, 0.4, 0.5], "format": ".1f", "title": "P-valor de Theil-Sen"}}
 }},
{"data": {"name": "diag"}, "mark": {"type": "line", "color": "#ff0000", "strokeWidth": 2.5},
 "encoding": {"x": {"field": "x", "type": "quantitative"}, "y": {"field": "y", "type": "quantitative"}}},
{"data": {"values": [{}]}, "mark": {"type": "text", "text": "b)", "font": "Liberation Sans", "fontWeight": "bold", "fontSize": 17, "align": "left", "baseline": "middle", "color": "#222"},
 "encoding": {"x": {"datum": 0.016}, "y": {"datum": 0.47}}}
]
}
]
}
